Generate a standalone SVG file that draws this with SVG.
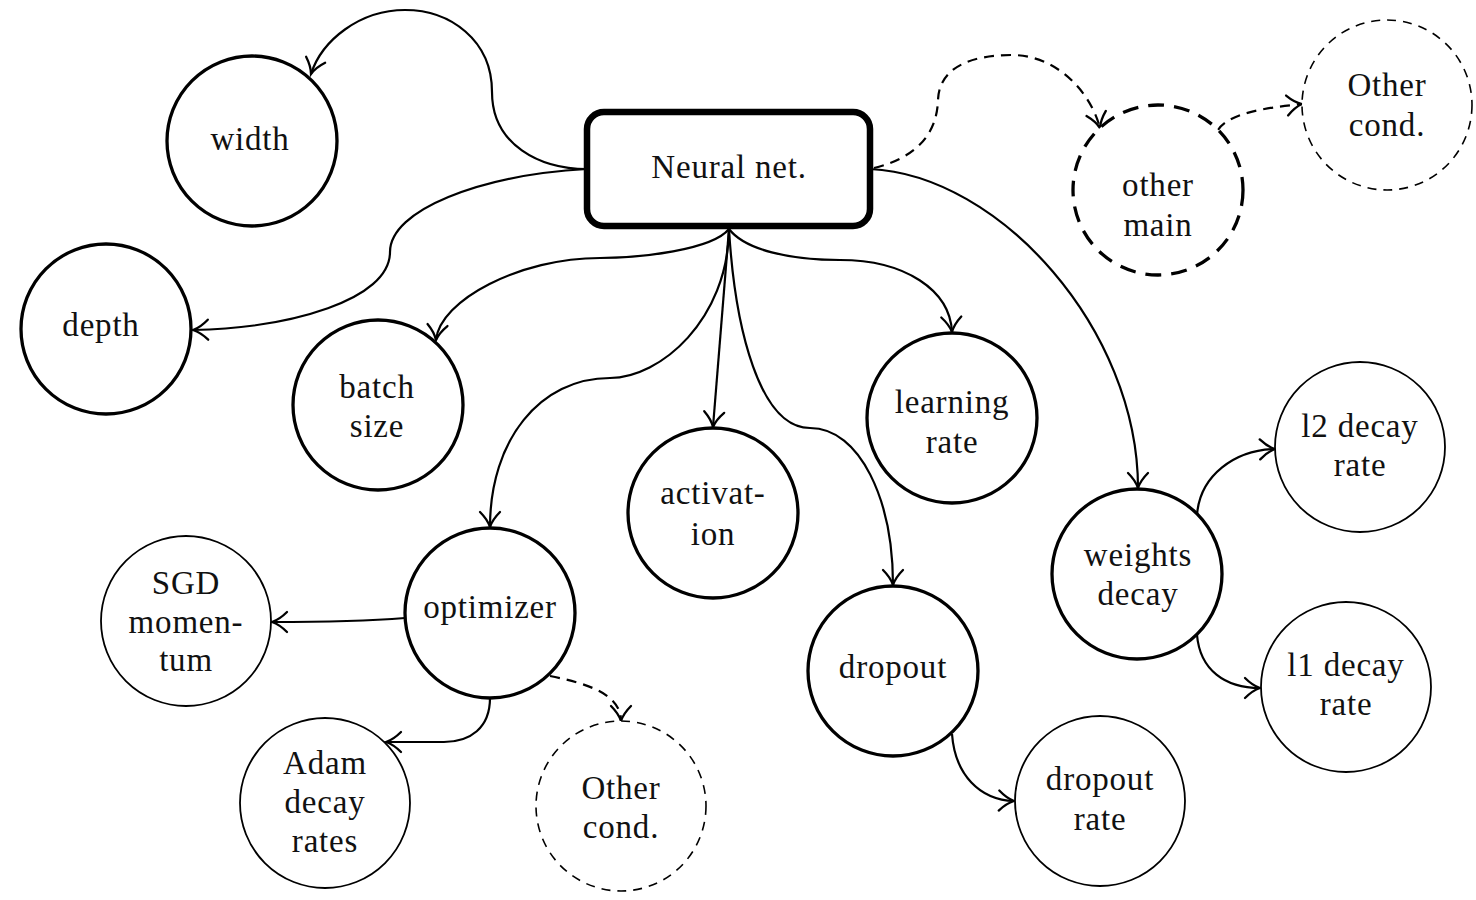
<svg xmlns="http://www.w3.org/2000/svg" width="1476" height="900" viewBox="0 0 1476 900">
<style>
.t{font-family:"Liberation Serif","Times New Roman",serif;font-size:33px;letter-spacing:0.8px;text-anchor:middle;fill:#111}
.n{fill:#fff;stroke:#000}
.thick{stroke-width:3.3}
.thin{stroke-width:1.8}
.dthick{stroke-width:3.3;stroke-dasharray:16 10}
.dthin{stroke-width:1.6;stroke-dasharray:9 7}
.e{fill:none;stroke:#000;stroke-width:2.2;marker-end:url(#arr)}
.d{stroke-dasharray:10 7}
</style>
<defs>
<marker id="arr" markerUnits="userSpaceOnUse" markerWidth="30" markerHeight="30" viewBox="-20 -15 30 30" refX="0" refY="0" orient="auto" overflow="visible">
<path d="M-15,-10 C-9,-4 -3,-1 0,0 C-3,1 -9,4 -15,10" fill="none" stroke="#000" stroke-width="2.3" stroke-linecap="round"/>
</marker>
</defs>
<g id="connectors">
<path class="e" d="M587,169 C540,169 492,145 492,92 C492,40 450,10 405,10 C360,10 322,40 311,74"/>
<path class="e" d="M587,169 C480,175 390,210 390,252 C390,300 290,328 193,330"/>
<path class="e" d="M729,229 C712,250 640,258 600,258 C520,258 440,300 436,340"/>
<path class="e" d="M729,229 C728,320 660,378 610,378 C540,378 490,440 490,527"/>
<path class="e" d="M729,229 L713,427"/>
<path class="e" d="M729,229 C735,330 760,428 810,428 C860,428 893,500 893,585"/>
<path class="e" d="M729,229 C745,250 790,260 840,260 C905,260 950,290 952,332"/>
<path class="e" d="M870,169 C1000,175 1138,330 1138,488"/>
<path class="e d" d="M874,168 C915,158 937,135 938,100 C939,68 970,55 1012,55 C1055,55 1090,90 1100,128"/>
<path class="e d" d="M1218,130 C1228,114 1262,108 1302,104"/>
<path class="e" d="M405,618 C380,620 330,622 272,622"/>
<path class="e" d="M490,698 C490,728 470,742 444,742 L386,742"/>
<path class="e d" d="M550,676 C590,684 621,695 621,721"/>
<path class="e" d="M952,734 C955,775 980,800 1014,801"/>
<path class="e" d="M1197,515 C1200,475 1235,450 1275,449"/>
<path class="e" d="M1197,635 C1200,670 1225,688 1260,688"/>
</g>
<g id="neural"><rect class="n" x="587" y="112" width="283" height="114" rx="17" stroke-width="6.5"/><text class="t" x="729" y="178">Neural net.</text></g>
<g id="width"><circle class="n thick" cx="252" cy="141" r="85"/><text class="t" x="250" y="150">width</text></g>
<g id="depth"><circle class="n thick" cx="106" cy="329" r="85"/><text class="t" x="101" y="336">depth</text></g>
<g id="batch"><circle class="n thick" cx="378" cy="405" r="85"/><text class="t" x="377" y="398">batch</text><text class="t" x="377" y="437">size</text></g>
<g id="activation"><circle class="n thick" cx="713" cy="513" r="85"/><text class="t" x="713" y="504">activat-</text><text class="t" x="713" y="545">ion</text></g>
<g id="learning"><circle class="n thick" cx="952" cy="418" r="85"/><text class="t" x="952" y="413">learning</text><text class="t" x="952" y="453">rate</text></g>
<g id="optimizer"><circle class="n thick" cx="490" cy="613" r="85"/><text class="t" x="490" y="618">optimizer</text></g>
<g id="dropout"><circle class="n thick" cx="893" cy="671" r="85"/><text class="t" x="893" y="678">dropout</text></g>
<g id="weights"><circle class="n thick" cx="1137" cy="574" r="85"/><text class="t" x="1138" y="566">weights</text><text class="t" x="1138" y="605">decay</text></g>
<g id="othermain"><circle class="n dthick" cx="1158" cy="190" r="85"/><text class="t" x="1158" y="196">other</text><text class="t" x="1158" y="236">main</text></g>
<g id="othercond1"><circle class="n dthin" cx="1387" cy="105" r="85"/><text class="t" x="1387" y="96">Other</text><text class="t" x="1387" y="136">cond.</text></g>
<g id="sgd"><circle class="n thin" cx="186" cy="621" r="85"/><text class="t" x="186" y="594">SGD</text><text class="t" x="186" y="633">momen-</text><text class="t" x="186" y="671">tum</text></g>
<g id="adam"><circle class="n thin" cx="325" cy="803" r="85"/><text class="t" x="325" y="774">Adam</text><text class="t" x="325" y="813">decay</text><text class="t" x="325" y="852">rates</text></g>
<g id="othercond2"><circle class="n dthin" cx="621" cy="806" r="85"/><text class="t" x="621" y="799">Other</text><text class="t" x="621" y="838">cond.</text></g>
<g id="dropoutrate"><circle class="n thin" cx="1100" cy="801" r="85"/><text class="t" x="1100" y="790">dropout</text><text class="t" x="1100" y="830">rate</text></g>
<g id="l2"><circle class="n thin" cx="1360" cy="447" r="85"/><text class="t" x="1360" y="437">l2 decay</text><text class="t" x="1360" y="476">rate</text></g>
<g id="l1"><circle class="n thin" cx="1346" cy="687" r="85"/><text class="t" x="1346" y="676">l1 decay</text><text class="t" x="1346" y="715">rate</text></g>
</svg>
